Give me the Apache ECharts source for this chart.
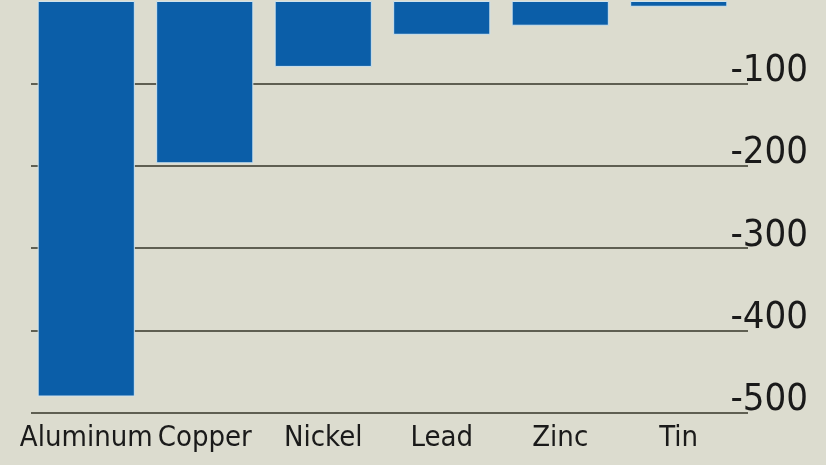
<!DOCTYPE html>
<html>
<head>
<meta charset="utf-8">
<script src="https://cdn.jsdelivr.net/npm/echarts@6/dist/echarts.min.js"></script>
<style>
  html, body { margin: 0; padding: 0; background: #dcdccf; }
  #chart { width: 826px; height: 465px; }
</style>
</head>
<body>
<div id="chart"></div>
<script>
const metals = ['Aluminum', 'Copper', 'Nickel', 'Lead', 'Zinc', 'Tin'];
const changes = [-480, -197, -80, -41, -30, -7];
const yTicks = [-500, -400, -300, -200, -100, 0];

const font = '"Liberation Sans Narrow", "DejaVu Sans Condensed", "Open Sans", sans-serif';
const lineColor = '#5f5f52';

let chart = echarts.init(document.getElementById('chart'));
let option = {
  backgroundColor: '#dcdccf',
  animation: false,
  grid: [
    // bars
    { left: 27, right: 88, top: 1, bottom: 52 },
    // gridlines + right labels
    { left: 31, right: 78, top: 1, bottom: 52 }
  ],
  xAxis: [{
    type: 'category',
    gridIndex: 0,
    data: metals,
    axisLine: { show: false },
    axisTick: { show: false },
    axisLabel: {
      color: '#1a1a1a',
      fontFamily: font,
      fontSize: 29,
      margin: 11,
      interval: 0
    }
  }, {
    type: 'value',
    gridIndex: 1,
    show: false
  }],
  yAxis: [{
    type: 'value',
    gridIndex: 0,
    min: yTicks[0],
    max: yTicks[yTicks.length - 1],
    interval: 100,
    show: false
  }, {
    type: 'value',
    gridIndex: 1,
    position: 'right',
    min: yTicks[0],
    max: yTicks[yTicks.length - 1],
    interval: 100,
    axisLine: { show: false },
    axisTick: { show: false },
    splitLine: {
      lineStyle: {
        // no line at zero (top edge)
        color: [lineColor, lineColor, lineColor, lineColor, lineColor, 'rgba(0,0,0,0)'],
        width: 2
      }
    },
    axisLabel: {
      color: '#1a1a1a',
      fontFamily: font,
      fontSize: 38,
      align: 'right',
      verticalAlign: 'bottom',
      lineHeight: 25,
      margin: 60,
      formatter: v => (v === 0 ? '' : String(v))
    }
  }],
  series: [{
    type: 'bar',
    xAxisIndex: 0,
    yAxisIndex: 0,
    data: changes,
    barCategoryGap: '18%',
    itemStyle: {
      color: '#0b5ea8',
      borderColor: '#cfe3ee',
      borderWidth: 1
    }
  }]
};
chart.setOption(option);
</script>
</body>
</html>
